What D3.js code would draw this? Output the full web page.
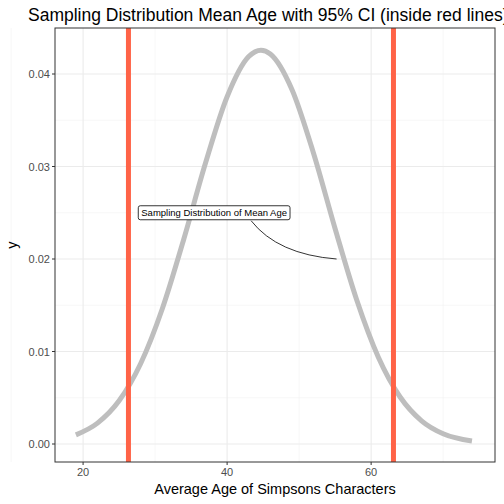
<!DOCTYPE html><html><head><script src="https://cdn.jsdelivr.net/npm/d3@7"></script>
<style>body{margin:0}</style></head><body><svg width="504" height="504"></svg>
<script>
const ageX=[19,22,25,28,31,34,37,40,43,44.7,46,49,52,55,58,61,64,67,70,74];
const densY=[0.00099,0.00226,0.00467,0.0087,0.01462,0.02219,0.03037,0.03754,0.04189,0.04258,0.04217,0.03833,0.03143,0.02327,0.01556,0.00938,0.00511,0.00251,0.00111,0.00032];
const ciLines=[26.3,63.1];
const xTicks=[20,40,60], yTicks=[0,0.01,0.02,0.03,0.04];
const svg=d3.select("svg");
const L=55,R=495,T=28,B=462;
const x=d3.scaleLinear().domain([16.1,77.2]).range([L,R]);
const y=d3.scaleLinear().domain([0,0.04]).range([444,74]);
svg.append("rect").attr("width",504).attr("height",504).attr("fill","#fff");
const g=svg.append("g");
[10,30,50,70].forEach(v=>g.append("line").attr("x1",x(v)).attr("x2",x(v)).attr("y1",T).attr("y2",B).attr("stroke","#f2f2f2").attr("stroke-width",0.6));
[0.005,0.015,0.025,0.035].forEach(v=>g.append("line").attr("y1",y(v)).attr("y2",y(v)).attr("x1",L).attr("x2",R).attr("stroke","#f2f2f2").attr("stroke-width",0.6));
xTicks.forEach(v=>g.append("line").attr("x1",x(v)).attr("x2",x(v)).attr("y1",T).attr("y2",B).attr("stroke","#ebebeb").attr("stroke-width",1.1));
yTicks.forEach(v=>g.append("line").attr("y1",y(v)).attr("y2",y(v)).attr("x1",L).attr("x2",R).attr("stroke","#ebebeb").attr("stroke-width",1.1));
const pts=ageX.map((a,i)=>[a,densY[i]]);
g.append("path").attr("d",d3.line().x(d=>x(d[0])).y(d=>y(d[1])).curve(d3.curveMonotoneX)(pts)).attr("fill","none").attr("stroke","#bebebe").attr("stroke-width",5);
ciLines.forEach(v=>g.append("line").attr("x1",x(v)).attr("x2",x(v)).attr("y1",T).attr("y2",B).attr("stroke","#ff6347").attr("stroke-width",5));
// annotation
const ax=x(38.2),ay=y(0.025);
g.append("path").attr("d",`M${ax+37},${ay+8} Q${x(47)},${y(0.0205)} ${x(55.2)},${y(0.02)}`).attr("fill","none").attr("stroke","#000").attr("stroke-width",0.8);
const t=g.append("text").attr("x",ax).attr("y",ay+3.5).attr("text-anchor","middle").attr("font-family","Liberation Sans, sans-serif").attr("font-size",9.5).text("Sampling Distribution of Mean Age");
const bb=t.node().getBBox();
g.insert("rect","text:last-of-type").attr("x",bb.x-3).attr("y",bb.y-1.5).attr("width",bb.width+6).attr("height",bb.height+3).attr("rx",2).attr("fill","#fff").attr("stroke","#000").attr("stroke-width",0.8);
g.append("rect").attr("x",L).attr("y",T).attr("width",R-L).attr("height",B-T).attr("fill","none").attr("stroke","#333").attr("stroke-width",1);
const font="Liberation Sans, Arial, sans-serif";
xTicks.forEach(v=>{g.append("line").attr("x1",x(v)).attr("x2",x(v)).attr("y1",B).attr("y2",B+3).attr("stroke","#333");
g.append("text").attr("x",x(v)).attr("y",B+14).attr("text-anchor","middle").attr("font-family",font).attr("font-size",11).attr("fill","#4d4d4d").text(v);});
yTicks.forEach(v=>{g.append("line").attr("x1",L-3).attr("x2",L).attr("y1",y(v)).attr("y2",y(v)).attr("stroke","#333");
g.append("text").attr("x",L-5).attr("y",y(v)+4).attr("text-anchor","end").attr("font-family",font).attr("font-size",11).attr("fill","#4d4d4d").text(v.toFixed(2));});
svg.append("text").attr("x",(L+R)/2).attr("y",494).attr("text-anchor","middle").attr("font-family",font).attr("font-size",14.5).text("Average Age of Simpsons Characters");
svg.append("text").attr("transform","translate(17,245) rotate(-90)").attr("text-anchor","middle").attr("font-family",font).attr("font-size",14.5).text("y");
svg.append("text").attr("x",28).attr("y",21).attr("font-family",font).attr("font-size",17.5).text("Sampling Distribution Mean Age with 95% CI (inside red lines)");
</script></body></html>
